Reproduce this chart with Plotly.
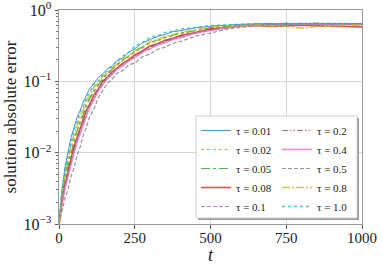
import plotly.graph_objects as go

t = [0, 5, 10, 20, 30, 40, 50, 60, 70, 80, 90, 100, 115, 130, 145, 160, 175, 190, 210, 230,
     250, 275, 300, 325, 350, 375, 400, 450, 500, 550, 600, 650, 700, 750, 800, 850, 900, 950, 1000]

err_001 = [0.0010, 0.0020, 0.0030, 0.0064, 0.0098, 0.0165, 0.0226, 0.0318, 0.0392, 0.0515, 0.0625, 0.0772, 0.0935, 0.1130, 0.1275, 0.1510, 0.1620, 0.1930, 0.2110, 0.2560,
           0.2860, 0.3450, 0.3850, 0.4250, 0.4560, 0.4950, 0.5120, 0.5640, 0.5920, 0.6180, 0.6300, 0.6400, 0.6350, 0.6450, 0.6300, 0.6350, 0.6250, 0.6300, 0.6200]
err_002 = [0.0010, 0.0016, 0.0026, 0.0044, 0.0074, 0.0106, 0.0162, 0.0209, 0.0290, 0.0355, 0.0485, 0.0565, 0.0760, 0.0895, 0.1130, 0.1265, 0.1480, 0.1650, 0.1950, 0.2180,
           0.2580, 0.2920, 0.3450, 0.3660, 0.4100, 0.4330, 0.4700, 0.5120, 0.5630, 0.5850, 0.6150, 0.6300, 0.6250, 0.6400, 0.6300, 0.6250, 0.6350, 0.6300, 0.6400]
err_005 = [0.0010, 0.0016, 0.0024, 0.0045, 0.0066, 0.0105, 0.0145, 0.0205, 0.0262, 0.0350, 0.0440, 0.0560, 0.0700, 0.0900, 0.1060, 0.1290, 0.1470, 0.1720, 0.1970, 0.2270,
           0.2620, 0.3030, 0.3480, 0.3800, 0.4150, 0.4450, 0.4720, 0.5200, 0.5600, 0.5870, 0.6100, 0.6250, 0.6350, 0.6400, 0.6450, 0.6300, 0.6400, 0.6350, 0.6300]
err_008 = [0.0010, 0.0015, 0.0022, 0.0036, 0.0058, 0.0083, 0.0124, 0.0164, 0.0228, 0.0286, 0.0392, 0.0468, 0.0642, 0.0790, 0.1010, 0.1150, 0.1355, 0.1525, 0.1790, 0.2010,
           0.2350, 0.2670, 0.3140, 0.3370, 0.3780, 0.4000, 0.4380, 0.4850, 0.5400, 0.5650, 0.6000, 0.6050, 0.5900, 0.6000, 0.6100, 0.6000, 0.5950, 0.5850, 0.5800]
err_01 = [0.0010, 0.0014, 0.0020, 0.0034, 0.0050, 0.0076, 0.0106, 0.0150, 0.0195, 0.0266, 0.0342, 0.0440, 0.0572, 0.0760, 0.0930, 0.1125, 0.1265, 0.1500, 0.1680, 0.1975,
          0.2200, 0.2610, 0.2930, 0.3300, 0.3550, 0.3930, 0.4170, 0.4800, 0.5200, 0.5650, 0.6000, 0.6250, 0.6350, 0.6400, 0.6350, 0.6400, 0.6300, 0.6400, 0.6350]
err_02 = [0.0010, 0.0015, 0.0021, 0.0034, 0.0055, 0.0078, 0.0117, 0.0154, 0.0214, 0.0271, 0.0372, 0.0448, 0.0615, 0.0765, 0.0985, 0.1120, 0.1330, 0.1495, 0.1760, 0.1960,
          0.2300, 0.2610, 0.3070, 0.3300, 0.3700, 0.3920, 0.4310, 0.4780, 0.5350, 0.5620, 0.6000, 0.6300, 0.6450, 0.6500, 0.6450, 0.6550, 0.6400, 0.6500, 0.6450]
err_04 = [0.0010, 0.0014, 0.0019, 0.0032, 0.0048, 0.0071, 0.0100, 0.0140, 0.0184, 0.0252, 0.0326, 0.0422, 0.0550, 0.0738, 0.0905, 0.1100, 0.1240, 0.1470, 0.1650, 0.1930,
          0.2150, 0.2550, 0.2860, 0.3230, 0.3480, 0.3850, 0.4100, 0.4730, 0.5150, 0.5620, 0.5950, 0.6200, 0.6300, 0.6350, 0.6400, 0.6300, 0.6350, 0.6250, 0.6300]
err_05 = [0.0010, 0.0012, 0.0015, 0.0023, 0.0031, 0.0047, 0.0062, 0.0093, 0.0121, 0.0176, 0.0224, 0.0310, 0.0405, 0.0595, 0.0740, 0.0945, 0.1050, 0.1290, 0.1410, 0.1700,
          0.1800, 0.2210, 0.2400, 0.2820, 0.3000, 0.3420, 0.3600, 0.4300, 0.4750, 0.5350, 0.5700, 0.6000, 0.6250, 0.6400, 0.6500, 0.6450, 0.6500, 0.6400, 0.6450]
err_08 = [0.0010, 0.0017, 0.0028, 0.0049, 0.0083, 0.0120, 0.0185, 0.0236, 0.0328, 0.0392, 0.0540, 0.0618, 0.0830, 0.0950, 0.1195, 0.1320, 0.1550, 0.1720, 0.2030, 0.2260,
          0.2700, 0.3050, 0.3620, 0.3800, 0.4280, 0.4500, 0.4850, 0.5250, 0.5750, 0.5920, 0.6100, 0.6150, 0.6000, 0.5900, 0.5550, 0.5900, 0.6000, 0.6100, 0.6200]
err_10 = [0.0010, 0.0018, 0.0030, 0.0054, 0.0093, 0.0136, 0.0210, 0.0268, 0.0370, 0.0438, 0.0595, 0.0680, 0.0900, 0.1010, 0.1265, 0.1395, 0.1660, 0.1870, 0.2260, 0.2550,
          0.3120, 0.3500, 0.4130, 0.4350, 0.4850, 0.5050, 0.5400, 0.5680, 0.6050, 0.6180, 0.6350, 0.6450, 0.6400, 0.6300, 0.6450, 0.6400, 0.6500, 0.6350, 0.6400]

tau_labels = ["0.01", "0.02", "0.05", "0.08", "0.1", "0.2", "0.4", "0.5", "0.8", "1.0"]
series = [err_001, err_002, err_005, err_008, err_01, err_02, err_04, err_05, err_08, err_10]

x_ticks = [0, 250, 500, 750, 1000]
y_ticks = [1e-3, 1e-2, 1e-1, 1]
y_ticktext = ["10<sup>\u22123</sup>", "10<sup>\u22122</sup>", "10<sup>\u22121</sup>", "10<sup>0</sup>"]

colors = ["#1f77b4", "#ff7f0e", "#2ca02c", "#d62728", "#9467bd",
          "#8c564b", "#e377c2", "#7f7f7f", "#bcbd22", "#17becf"]
dashes = ["solid", "dot", "dashdot", "solid", "4px,2px",
          "6px,2px,1.5px,2px,1.5px,2px", "solid", "4px,2px", "8px,2px,2px,2px", "dot"]
widths = [1.0, 1.2, 1.2, 1.6, 1.2, 1.2, 1.6, 1.2, 1.6, 1.4]

FONT = "Liberation Serif"

fig = go.Figure()
for i, (lab, ys) in enumerate(zip(tau_labels, series)):
    fig.add_trace(go.Scatter(
        x=t, y=ys, mode="lines",
        name="\u03c4 = " + lab,
        line=dict(color=colors[i], dash=dashes[i], width=widths[i]),
        opacity=0.8,
        legend="legend" if i < 5 else "legend2",
    ))

W, H = 383, 267
ml, mr, mt, mb = 59, 21, 10, 43
pw, ph = W - ml - mr, H - mt - mb

def px_x(p):
    return (p - ml) / pw

def px_y(p):
    return (H - mb - p) / ph

box_l, box_r, box_t, box_b = 196, 357, 116, 218
fig.add_shape(type="rect", xref="paper", yref="paper",
              x0=px_x(box_l + 2), x1=px_x(box_r + 2), y0=px_y(box_b + 2), y1=px_y(box_t + 2),
              fillcolor="#9a9a9a", line=dict(width=0), layer="above")
fig.add_shape(type="rect", xref="paper", yref="paper",
              x0=px_x(box_l), x1=px_x(box_r), y0=px_y(box_b), y1=px_y(box_t),
              fillcolor="white", line=dict(color="#cfcfcf", width=1), layer="above")

leg_common = dict(bgcolor="rgba(0,0,0,0)", borderwidth=0, font=dict(family=FONT, size=11, color="#222"),
                  xanchor="left", yanchor="top", itemwidth=30, tracegroupgap=0)

fig.update_layout(
    width=W, height=H,
    margin=dict(l=ml, r=mr, t=mt, b=mb, autoexpand=False),
    paper_bgcolor="white", plot_bgcolor="white",
    font=dict(family=FONT, size=14, color="#222"),
    legend=dict(x=px_x(box_l), y=px_y(box_t), **leg_common),
    legend2=dict(x=px_x(box_l + 81), y=px_y(box_t), **leg_common),
    xaxis=dict(
        range=[0, 1000], tickvals=x_ticks, ticks="outside", ticklen=3.5, tickcolor="#555",
        showgrid=True, gridcolor="#d6d6d6", gridwidth=1, zeroline=False,
        showline=True, linecolor="#9a9a9a", linewidth=1, mirror=True, automargin=False,
        ticklabeloverflow="allow", ticklabelstandoff=-4,
        tickfont=dict(family=FONT, size=15, color="#222"),
        title=dict(text="<i>t</i>", font=dict(family=FONT, size=18, color="#222"), standoff=0),
    ),
    yaxis=dict(
        type="log", range=[-3, 0], tickvals=y_ticks, ticktext=y_ticktext,
        ticks="outside", ticklen=3.5, tickcolor="#555",
        minor=dict(ticks="outside", ticklen=2, tickcolor="#777", showgrid=False, dtick="D1"),
        showgrid=True, gridcolor="#d6d6d6", gridwidth=1, zeroline=False,
        showline=True, linecolor="#9a9a9a", linewidth=1, mirror=True, automargin=False,
        ticklabeloverflow="allow",
        tickfont=dict(family=FONT, size=16, color="#222"),
        title=dict(text="solution absolute error", font=dict(family=FONT, size=17, color="#222"), standoff=2),
    ),
)

fig.write_html("out.html", config={"displayModeBar": False},
               post_script="document.body.style.margin='0';document.body.style.padding='0';")
